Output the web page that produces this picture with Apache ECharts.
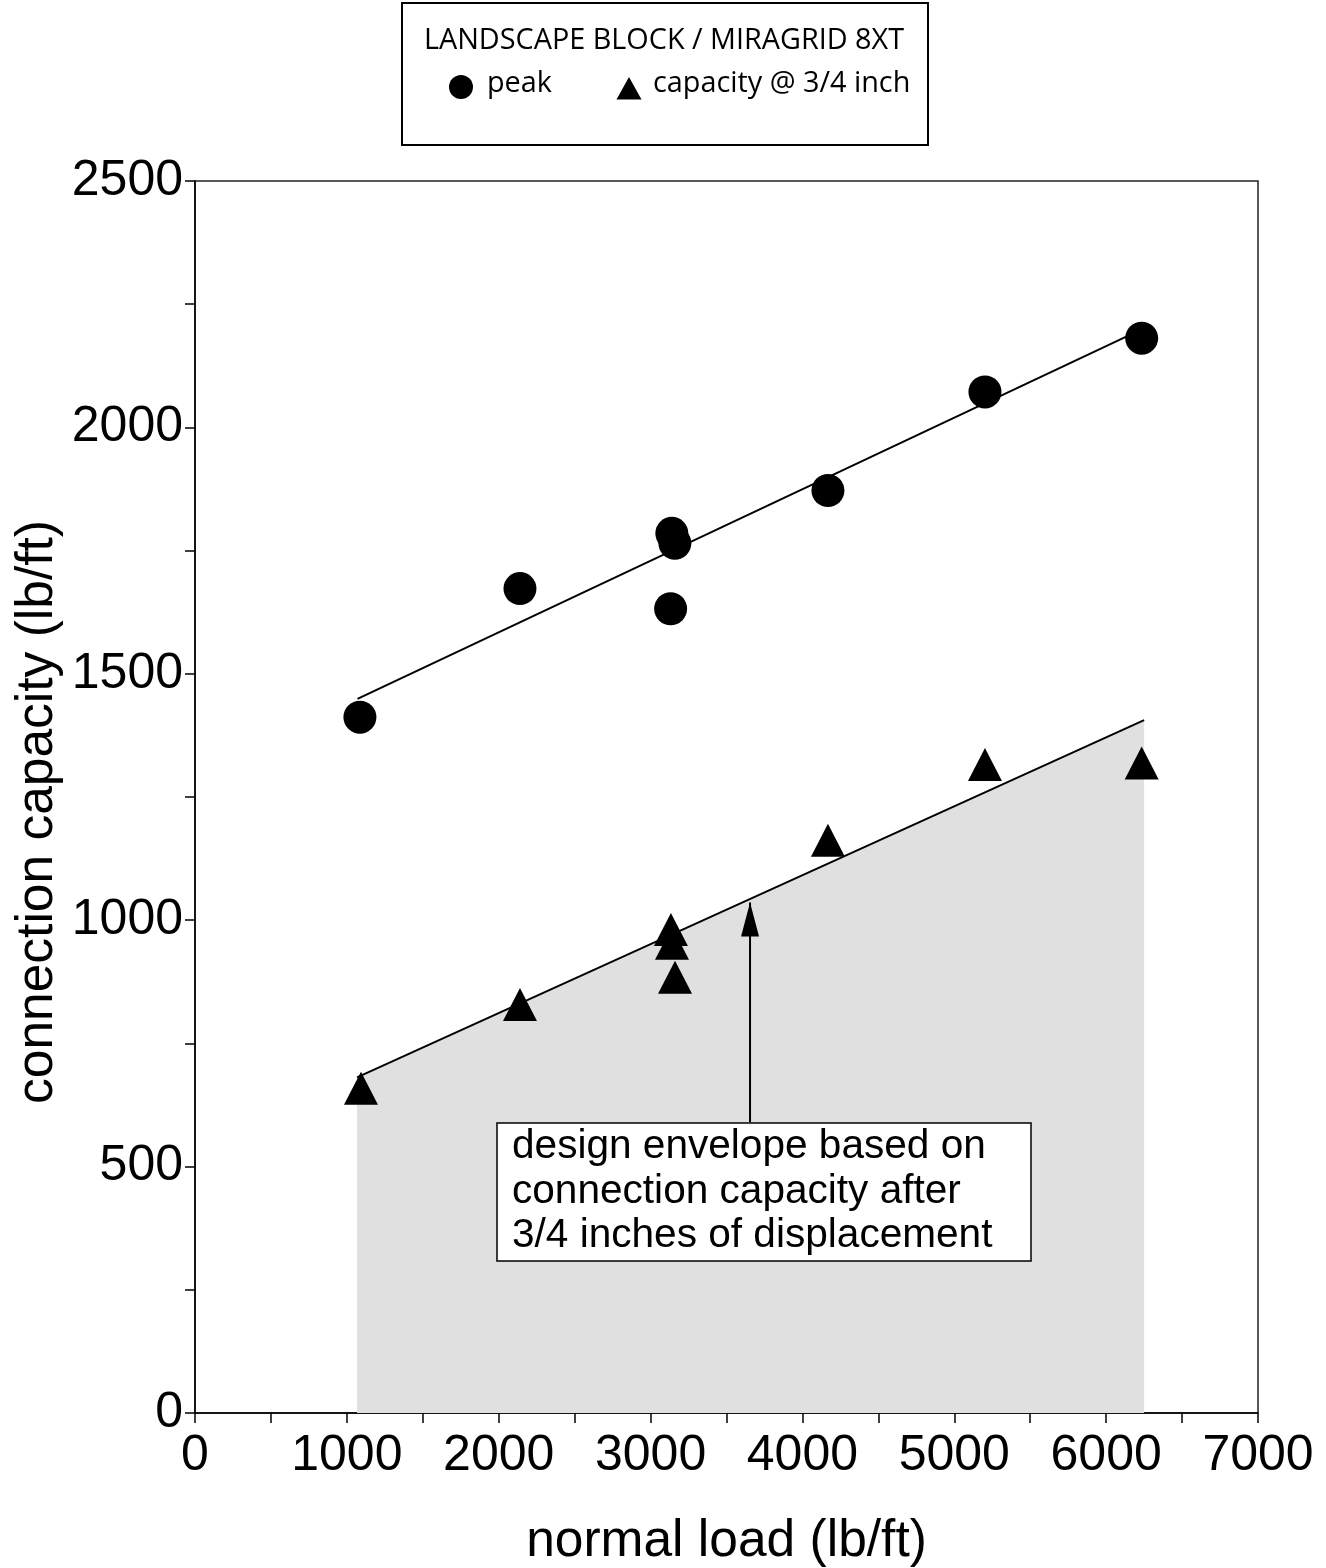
<!DOCTYPE html>
<html><head><meta charset="utf-8">
<script src="https://cdn.jsdelivr.net/npm/echarts@6/dist/echarts.min.js"></script>
<style>html,body{margin:0;padding:0;background:#fff;overflow:hidden}#c{width:1326px;height:1568px}</style>
</head><body><div id="c"></div>
<script>
// peak connection capacity
const peakX = [1086, 2140, 3132, 3140, 3160, 4168, 5202, 6234];
const peakY = [1412, 1673, 1632, 1785, 1765, 1872, 2072, 2181];
// capacity @ 3/4 inch
const capX = [1093, 2140, 3134, 3141, 3161, 4168, 5202, 6234];
const capY = [659, 829, 981, 953, 884, 1162, 1316, 1319];
// fitted lines
const peakFitX = [1070, 6234];
const peakFitY = [1449, 2199];
const capFitX = [1067, 6250];
const capFitY = [681, 1406];
// annotation arrow
const arrowX = [3655, 3655];
const arrowY = [590, 1036];
const xTicks = [0, 1000, 2000, 3000, 4000, 5000, 6000, 7000];
const yTicks = [0, 500, 1000, 1500, 2000, 2500];

const zip = (a, b) => a.map((v, i) => [v, b[i]]);
const chart = echarts.init(document.getElementById('c'), null, {width: 1326, height: 1568});
const FONT = 'Liberation Sans';
const axisCommon = {
  axisLine: {show: true, onZero: false, lineStyle: {color: '#000', width: 1.5}},
  axisTick: {show: true, length: 10, lineStyle: {color: '#000', width: 1.5}},
  minorTick: {show: true, splitNumber: 2, length: 10, lineStyle: {color: '#000', width: 1.5}},
  splitLine: {show: false}
};
chart.setOption({
  animation: false,
  grid: {left: 195, top: 181, width: 1063, height: 1232, containLabel: false, outerBoundsMode: 'none',
         show: true, borderColor: '#222', borderWidth: 1.5},
  xAxis: Object.assign({
    type: 'value', min: xTicks[0], max: xTicks[xTicks.length - 1], interval: 1000,
    axisLabel: {fontFamily: FONT, fontSize: 50, color: '#000', margin: 18, formatter: v => String(v)},
    name: 'normal load (lb/ft)', nameLocation: 'middle', nameGap: 103,
    nameTextStyle: {fontFamily: FONT, fontSize: 51.5, color: '#000'}
  }, axisCommon),
  yAxis: Object.assign({
    type: 'value', min: yTicks[0], max: yTicks[yTicks.length - 1], interval: 500,
    axisLabel: {fontFamily: FONT, fontSize: 50, color: '#000', margin: 12, formatter: v => String(v)}
  }, axisCommon),
  series: [
    {
      type: 'line', data: zip(capFitX, capFitY), symbol: 'none', z: 1,
      lineStyle: {color: '#000', width: 2},
      areaStyle: {color: '#e0e0e0', opacity: 1}
    },
    {
      type: 'line', data: zip(peakFitX, peakFitY), symbol: 'none', z: 2,
      lineStyle: {color: '#000', width: 2}
    },
    {
      type: 'line', data: zip(arrowX, arrowY), symbol: 'none', z: 2,
      lineStyle: {color: '#000', width: 2},
      markPoint: {
        symbol: 'triangle', symbolSize: [18, 34], symbolOffset: [0, 17],
        itemStyle: {color: '#000'}, label: {show: false},
        data: [{coord: [arrowX[1], arrowY[1]]}]
      }
    },
    {
      name: 'peak', type: 'scatter', data: zip(peakX, peakY), z: 5,
      symbol: 'circle', symbolSize: 33, itemStyle: {color: '#000', opacity: 1}
    },
    {
      name: 'capacity @ 3/4 inch', type: 'scatter', data: zip(capX, capY), z: 5,
      symbol: 'triangle', symbolSize: [34, 33], itemStyle: {color: '#000', opacity: 1}
    }
  ],
  graphic: [
    {type: 'rect', shape: {x: 402, y: 3, width: 526, height: 142}, style: {fill: '#fff', stroke: '#000', lineWidth: 2}, z: 10},
    {type: 'text', z: 11, style: {text: 'LANDSCAPE BLOCK / MIRAGRID 8XT', x: 664, y: 41, align: 'center', verticalAlign: 'middle', font: '28.8px "Open Sans"', fill: '#000'}},
    {type: 'circle', z: 11, shape: {cx: 461, cy: 87, r: 12}, style: {fill: '#000'}},
    {type: 'text', z: 11, style: {text: 'peak', x: 487, y: 84, verticalAlign: 'middle', font: '28.8px "Open Sans"', fill: '#000'}},
    {type: 'polygon', z: 11, shape: {points: [[629, 77], [641.5, 99.5], [616.5, 99.5]]}, style: {fill: '#000'}},
    {type: 'text', z: 11, style: {text: 'capacity @ 3/4 inch', x: 653, y: 84, verticalAlign: 'middle', font: '28.8px "Open Sans"', fill: '#000'}},
    {type: 'rect', z: 10, shape: {x: 497, y: 1123, width: 534, height: 138}, style: {fill: '#fff', stroke: '#000', lineWidth: 1.5}},
    {type: 'text', z: 11, style: {text: 'design envelope based on\nconnection capacity after\n3/4 inches of displacement', x: 512, y: 1125, lineHeight: 44.5, font: '40.6px "Liberation Sans"', fill: '#000'}},
    {type: 'text', z: 11, x: 38, y: 812, rotation: Math.PI / 2, style: {text: 'connection capacity (lb/ft)', x: 0, y: 0, align: 'center', verticalAlign: 'middle', font: '51.5px "Liberation Sans"', fill: '#000'}}
  ]
});
</script>
</body></html>
